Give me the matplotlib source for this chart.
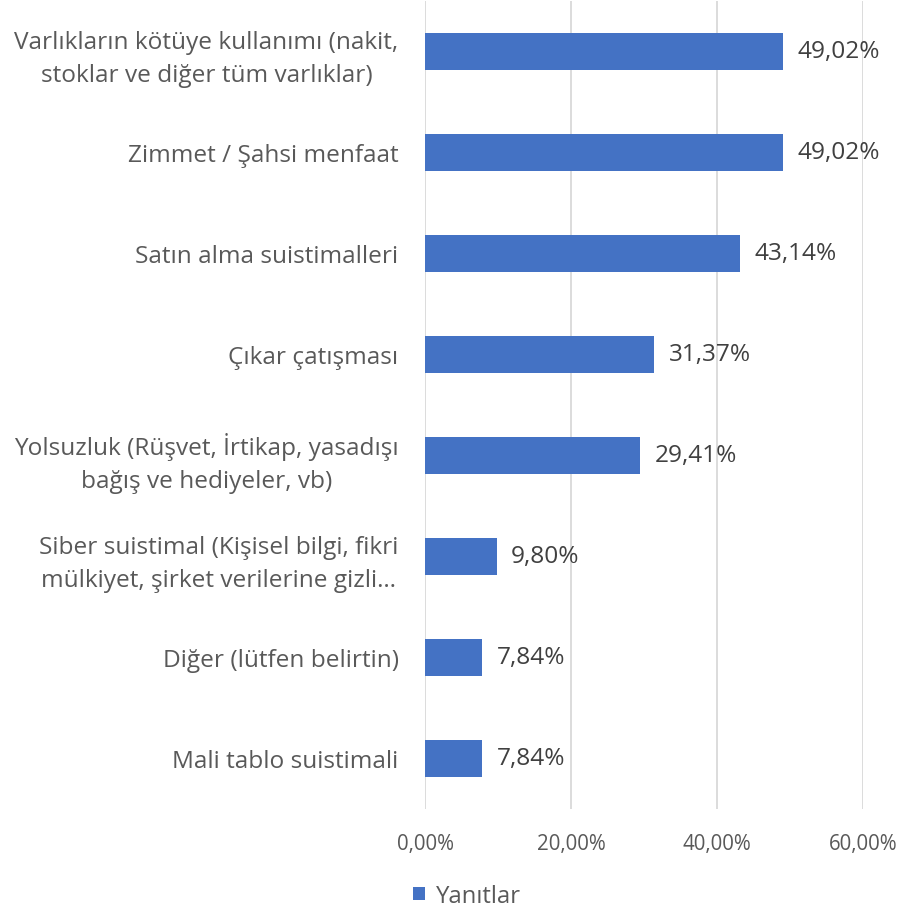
import matplotlib
matplotlib.use('Agg')
from matplotlib import pyplot as plt
from matplotlib.ticker import FuncFormatter

matplotlib.rc('font', family=['Open Sans', 'DejaVu Sans'])

categories = [
    'Varlıkların kötüye kullanımı (nakit,\nstoklar ve diğer tüm varlıklar)',
    'Zimmet / Şahsi menfaat',
    'Satın alma suistimalleri',
    'Çıkar çatışması',
    'Yolsuzluk (Rüşvet, İrtikap, yasadışı\nbağış ve hediyeler, vb)',
    'Siber suistimal (Kişisel bilgi, fikri\nmülkiyet, şirket verilerine gizli…',
    'Diğer (lütfen belirtin)',
    'Mali tablo suistimali',
]
values = [49.02, 49.02, 43.14, 31.37, 29.41, 9.80, 7.84, 7.84]
series_name = 'Yanıtlar'
xticks = [0, 20, 40, 60]

blue = '#4472C4'
label_grey = '#595959'
value_grey = '#404040'

fig = plt.figure(figsize=(8.99, 9.12), dpi=100)
ax = fig.add_axes([425 / 899, 1 - 810 / 912, (863 - 425) / 899, 808 / 912])

pos = list(range(len(categories)))
bars = ax.barh(pos, values, height=0.365, color=blue, label=series_name, zorder=3)
ax.set_ylim(len(categories) - 0.5, -0.5)
ax.set_xlim(0, 60)
ax.set_xticks(xticks)
ax.xaxis.set_major_formatter(FuncFormatter(lambda v, p: ('%.2f%%' % v).replace('.', ',')))
ax.set_yticks(pos)
ax.set_yticklabels(categories, ha='right', multialignment='center', linespacing=1.5)
ax.tick_params(axis='y', length=0, pad=19, labelsize=17.6, labelcolor=label_grey)
ax.tick_params(axis='x', length=0, pad=17, labelsize=14.8, labelcolor=label_grey)
ax.grid(axis='x', color='#D9D9D9', linewidth=1.3, zorder=0)
for s in ax.spines.values():
    s.set_visible(False)

for b, v in zip(bars, values):
    ax.text(v + 2.0, b.get_y() + b.get_height() / 2, ('%.2f%%' % v).replace('.', ','),
            va='center', ha='left', fontsize=17.6, color=value_grey, zorder=4)

leg = fig.legend(handles=[bars], labels=[series_name], loc='center',
                 bbox_to_anchor=(467 / 899, 1 - 897 / 912), frameon=False,
                 fontsize=17.2, handlelength=0.5, handleheight=0.5, handletextpad=0.45)
for t in leg.get_texts():
    t.set_color(label_grey)

fig.savefig('out.png', dpi=100)
